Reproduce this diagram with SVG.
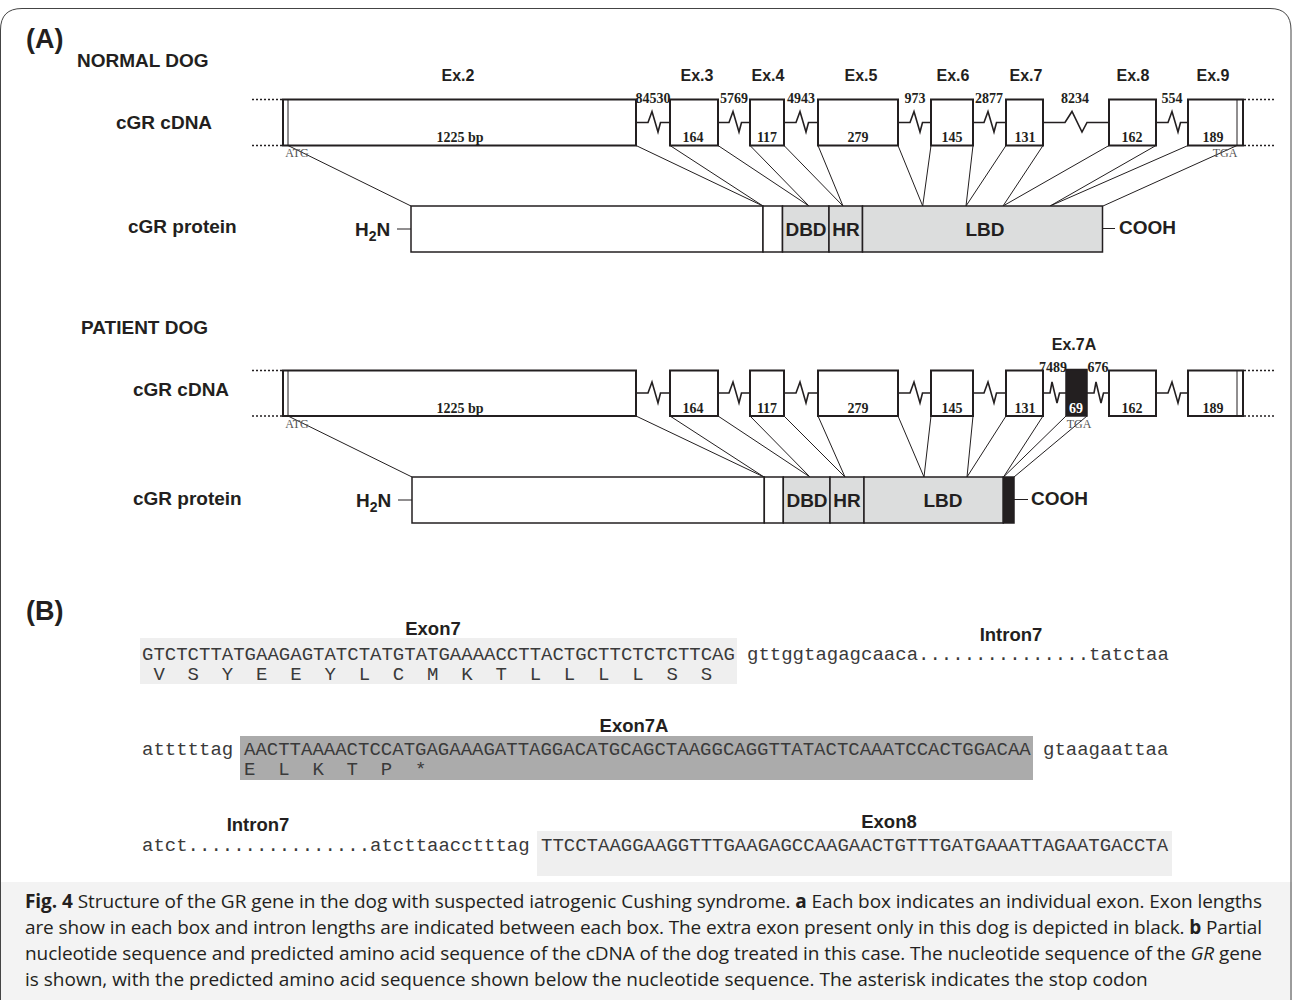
<svg xmlns="http://www.w3.org/2000/svg" width="1292" height="1000" viewBox="0 0 1292 1000">
<style>
.bx{fill:#fff;stroke:#231f20;stroke-width:2}
.ln{stroke:#231f20;stroke-width:1;fill:none}
.zz{stroke:#231f20;stroke-width:1.6;fill:none}
.dot{stroke:#231f20;stroke-width:1.5;stroke-dasharray:2 2}
.ex{font-family:"Liberation Sans",Arial,sans-serif;font-weight:bold;font-size:16px;fill:#231f20;text-anchor:middle}
.num{font-family:"Liberation Serif","Times New Roman",serif;font-weight:bold;font-size:14px;fill:#231f20;text-anchor:middle}
.sm{font-family:"Liberation Serif","Times New Roman",serif;font-size:12px;fill:#555;text-anchor:middle}
.lab{font-family:"Liberation Sans",Arial,sans-serif;font-weight:bold;font-size:19px;fill:#231f20}
.dom{font-family:"Liberation Sans",Arial,sans-serif;font-weight:bold;font-size:19px;fill:#231f20;text-anchor:middle}
.seq{font-family:"Liberation Mono","Courier New",monospace;font-size:19px;fill:#3a3a3a;white-space:pre}
.sl{font-family:"Liberation Sans",Arial,sans-serif;font-weight:bold;font-size:18.5px;fill:#231f20;text-anchor:middle}
.cap{font-family:"Open Sans",sans-serif;font-size:19px;fill:#231f20}
.gray{fill:#dcdddd;stroke:#231f20;stroke-width:1.5}
.wbox{fill:#fff;stroke:#231f20;stroke-width:1.5}
</style>
<rect x="0" y="0" width="1292" height="1000" fill="#fff"/>
<rect x="0" y="882" width="1292" height="118" fill="#f3f3f3"/>
<path d="M0.5,1000 V30 Q0.5,8.5 22,8.5 H1270 Q1291,8.5 1291,30 V1000" fill="none" stroke="#444" stroke-width="1"/>

<text x="26" y="48" style="font-family:'Liberation Sans',Arial,sans-serif;font-weight:bold;font-size:27px;fill:#231f20">(A)</text>
<text x="26" y="620" style="font-family:'Liberation Sans',Arial,sans-serif;font-weight:bold;font-size:27px;fill:#231f20">(B)</text>

<g id="normal-labels">
<text class="lab" x="77" y="67">NORMAL DOG</text>
<text class="lab" x="116" y="129">cGR cDNA</text>
<text class="lab" x="128" y="233">cGR protein</text>
</g>

<g id="connectors">
<g class="ln">
<line x1="288" y1="145.5" x2="411" y2="206"/>
<line x1="636" y1="145.5" x2="763" y2="206"/>
<line x1="670" y1="145.5" x2="763" y2="206"/>
<line x1="718" y1="145.5" x2="809" y2="206"/>
<line x1="750" y1="145.5" x2="809" y2="206"/>
<line x1="784" y1="145.5" x2="843" y2="206"/>
<line x1="818" y1="145.5" x2="843" y2="206"/>
<line x1="898" y1="145.5" x2="922.7" y2="206"/>
<line x1="931" y1="145.5" x2="922.7" y2="206"/>
<line x1="973" y1="145.5" x2="966" y2="206"/>
<line x1="1006" y1="145.5" x2="966" y2="206"/>
<line x1="1043" y1="145.5" x2="1003" y2="206"/>
<line x1="1109" y1="145.5" x2="1003" y2="206"/>
<line x1="1156" y1="145.5" x2="1050" y2="206"/>
<line x1="1188" y1="145.5" x2="1050" y2="206"/>
<line x1="1237" y1="145.5" x2="1103" y2="206"/>

<line x1="288" y1="416" x2="412" y2="477"/>
<line x1="636" y1="416" x2="764" y2="477"/>
<line x1="670" y1="416" x2="764" y2="477"/>
<line x1="718" y1="416" x2="810" y2="477"/>
<line x1="750" y1="416" x2="810" y2="477"/>
<line x1="784" y1="416" x2="845" y2="477"/>
<line x1="818" y1="416" x2="845" y2="477"/>
<line x1="898" y1="416" x2="924" y2="477"/>
<line x1="931" y1="416" x2="924" y2="477"/>
<line x1="973" y1="416" x2="967" y2="477"/>
<line x1="1006" y1="416" x2="967" y2="477"/>
<line x1="1043" y1="416" x2="1003.5" y2="477"/>
<line x1="1066" y1="416" x2="1003.5" y2="477"/>
<line x1="1087" y1="416" x2="1014" y2="477"/>
</g>
<g class="zz">
<path d="M636,122.5 H648 L652,111.5 L658,132 L660.5,122.5 H670"/>
<path d="M718,122.5 H729 L733,111.5 L739,132 L741.5,122.5 H750"/>
<path d="M784,122.5 H796 L800,111.5 L806,132 L808.5,122.5 H818"/>
<path d="M898,122.5 H910 L914,111.5 L920,132 L922.5,122.5 H931"/>
<path d="M973,122.5 H984 L988,111.5 L994,132 L996.5,122.5 H1006"/>
<path d="M1043,122.5 H1065 L1072,111.5 L1082,132 L1087,122.5 H1109"/>
<path d="M1156,122.5 H1168 L1172,111.5 L1178,132 L1180.5,122.5 H1188"/>

<path d="M636,393 H648 L652,382 L658,403 L660.5,393 H670"/>
<path d="M718,393 H729 L733,382 L739,403 L741.5,393 H750"/>
<path d="M784,393 H796 L800,382 L806,403 L808.5,393 H818"/>
<path d="M898,393 H910 L914,382 L920,403 L922.5,393 H931"/>
<path d="M973,393 H984 L988,382 L994,403 L996.5,393 H1006"/>
<path d="M1043,393 H1050 L1052,382 L1057,403 L1059.5,393 H1066"/>
<path d="M1087,393 H1094 L1096,382 L1101,403 L1103.5,393 H1109"/>
<path d="M1156,393 H1168 L1172,382 L1178,403 L1180.5,393 H1188"/>
</g>
<g class="dot">
<line x1="252" y1="99.5" x2="283" y2="99.5"/><line x1="252" y1="145.5" x2="283" y2="145.5"/>
<line x1="1244" y1="99.5" x2="1276" y2="99.5"/><line x1="1244" y1="145.5" x2="1276" y2="145.5"/>
<line x1="252" y1="370.5" x2="283" y2="370.5"/><line x1="252" y1="416" x2="283" y2="416"/>
<line x1="1244" y1="370.5" x2="1276" y2="370.5"/><line x1="1244" y1="416" x2="1276" y2="416"/>
</g>
</g>

<g id="intron-labels" class="num">
<text x="653" y="102.5">84530</text>
<text x="734" y="102.5">5769</text>
<text x="801" y="102.5">4943</text>
<text x="915" y="102.5">973</text>
<text x="989" y="102.5">2877</text>
<text x="1075" y="102.5">8234</text>
<text x="1172" y="102.5">554</text>
<text x="1053" y="371.5">7489</text>
<text x="1098" y="371.5">676</text>
</g>

<g id="n-ex2"><rect class="bx" x="283" y="99.5" width="353" height="46"/><line class="ln" x1="288" y1="99.5" x2="288" y2="145.5" stroke-width="2"/><text class="ex" x="458" y="80.5">Ex.2</text><text class="num" x="460" y="142">1225 bp</text><text class="sm" x="297" y="157">ATG</text></g>
<g id="n-ex3"><rect class="bx" x="670" y="99.5" width="48" height="46"/><text class="ex" x="697" y="80.5">Ex.3</text><text class="num" x="693" y="142">164</text></g>
<g id="n-ex4"><rect class="bx" x="750" y="99.5" width="34" height="46"/><text class="ex" x="768" y="80.5">Ex.4</text><text class="num" x="767" y="142">117</text></g>
<g id="n-ex5"><rect class="bx" x="818" y="99.5" width="80" height="46"/><text class="ex" x="861" y="80.5">Ex.5</text><text class="num" x="858" y="142">279</text></g>
<g id="n-ex6"><rect class="bx" x="931" y="99.5" width="42" height="46"/><text class="ex" x="953" y="80.5">Ex.6</text><text class="num" x="952" y="142">145</text></g>
<g id="n-ex7"><rect class="bx" x="1006" y="99.5" width="37" height="46"/><text class="ex" x="1026" y="80.5">Ex.7</text><text class="num" x="1025" y="142">131</text></g>
<g id="n-ex8"><rect class="bx" x="1109" y="99.5" width="47" height="46"/><text class="ex" x="1133" y="80.5">Ex.8</text><text class="num" x="1132" y="142">162</text></g>
<g id="n-ex9"><rect class="bx" x="1188" y="99.5" width="55" height="46"/><line class="ln" x1="1237" y1="99.5" x2="1237" y2="145.5" stroke-width="2"/><text class="ex" x="1213" y="80.5">Ex.9</text><text class="num" x="1213" y="142">189</text><text class="sm" x="1225" y="157">TGA</text></g>

<g id="n-protein">
<text class="lab" x="355" y="236">H<tspan font-size="14" dy="5">2</tspan><tspan dy="-5">N</tspan></text>
<line class="ln" x1="397" y1="229" x2="411" y2="229" stroke-width="2"/>
<rect class="wbox" x="411" y="206" width="352" height="46"/>
<rect class="wbox" x="763" y="206" width="19.5" height="46"/>
<rect class="gray" x="782.5" y="206" width="46.5" height="46"/>
<rect class="gray" x="829" y="206" width="33.5" height="46"/>
<rect class="gray" x="862.5" y="206" width="240" height="46"/>
<text class="dom" x="806" y="236">DBD</text>
<text class="dom" x="846" y="236">HR</text>
<text class="dom" x="985" y="236">LBD</text>
<line class="ln" x1="1102.5" y1="228.5" x2="1115" y2="228.5" stroke-width="2"/>
<text class="lab" x="1119" y="234">COOH</text>
</g>

<g id="patient-labels">
<text class="lab" x="81" y="334">PATIENT DOG</text>
<text class="lab" x="133" y="396">cGR cDNA</text>
<text class="lab" x="133" y="505">cGR protein</text>
</g>
<g id="p-ex2"><rect class="bx" x="283" y="370.5" width="353" height="45.5"/><line class="ln" x1="288" y1="370.5" x2="288" y2="416" stroke-width="2"/><text class="num" x="460" y="412.5">1225 bp</text><text class="sm" x="297" y="427.5">ATG</text></g>
<g id="p-ex3"><rect class="bx" x="670" y="370.5" width="48" height="45.5"/><text class="num" x="693" y="412.5">164</text></g>
<g id="p-ex4"><rect class="bx" x="750" y="370.5" width="34" height="45.5"/><text class="num" x="767" y="412.5">117</text></g>
<g id="p-ex5"><rect class="bx" x="818" y="370.5" width="80" height="45.5"/><text class="num" x="858" y="412.5">279</text></g>
<g id="p-ex6"><rect class="bx" x="931" y="370.5" width="42" height="45.5"/><text class="num" x="952" y="412.5">145</text></g>
<g id="p-ex7"><rect class="bx" x="1006" y="370.5" width="37" height="45.5"/><text class="num" x="1025" y="412.5">131</text></g>
<g id="p-ex7a"><rect x="1066" y="369.5" width="21" height="46.5" fill="#231f20" stroke="#231f20" stroke-width="1.5"/><text class="ex" x="1074" y="350">Ex.7A</text><text class="num" x="1076" y="412.5" style="fill:#fff">69</text><text class="sm" x="1079" y="427.5">TGA</text></g>
<g id="p-ex8"><rect class="bx" x="1109" y="370.5" width="47" height="45.5"/><text class="num" x="1132" y="412.5">162</text></g>
<g id="p-ex9"><rect class="bx" x="1188" y="370.5" width="55" height="45.5"/><line class="ln" x1="1237" y1="370.5" x2="1237" y2="416" stroke-width="2"/><text class="num" x="1213" y="412.5">189</text></g>

<g id="p-protein">
<text class="lab" x="356" y="507">H<tspan font-size="14" dy="5">2</tspan><tspan dy="-5">N</tspan></text>
<line class="ln" x1="398" y1="500" x2="412" y2="500" stroke-width="2"/>
<rect class="wbox" x="412" y="477" width="352.3" height="46"/>
<rect class="wbox" x="764.3" y="477" width="19" height="46"/>
<rect class="gray" x="783.3" y="477" width="46.7" height="46"/>
<rect class="gray" x="830" y="477" width="34" height="46"/>
<rect class="gray" x="864" y="477" width="139.3" height="46"/>
<rect x="1003.3" y="477" width="10.7" height="46" fill="#231f20" stroke="#231f20" stroke-width="1.5"/>
<text class="dom" x="807" y="507">DBD</text>
<text class="dom" x="847" y="507">HR</text>
<text class="dom" x="943" y="507">LBD</text>
<line class="ln" x1="1014" y1="499.5" x2="1028" y2="499.5" stroke-width="2"/>
<text class="lab" x="1031" y="505">COOH</text>
</g>

<g id="seq-row1">
<rect x="140" y="638" width="597" height="46" fill="#efefef"/>
<text class="sl" x="433" y="635">Exon7</text>
<text class="sl" x="1011" y="641">Intron7</text>
<text class="seq" x="142" y="660">GTCTCTTATGAAGAGTATCTATGTATGAAAACCTTACTGCTTCTCTCTTCAG</text>
<text class="seq" x="142" y="680" xml:space="preserve"> V  S  Y  E  E  Y  L  C  M  K  T  L  L  L  L  S  S</text>
<text class="seq" x="747" y="660">gttggtagagcaaca...............tatctaa</text>
</g>
<g id="seq-row2">
<rect x="240" y="736" width="793" height="44" fill="#ababab"/>
<text class="sl" x="634" y="732">Exon7A</text>
<text class="seq" x="142" y="755">atttttag</text>
<text class="seq" x="244" y="755">AACTTAAAACTCCATGAGAAAGATTAGGACATGCAGCTAAGGCAGGTTATACTCAAATCCACTGGACAA</text>
<text class="seq" x="244" y="775" xml:space="preserve">E  L  K  T  P  *</text>
<text class="seq" x="1043" y="755">gtaagaattaa</text>
</g>
<g id="seq-row3">
<rect x="537" y="831" width="635" height="45" fill="#efefef"/>
<text class="sl" x="258" y="831">Intron7</text>
<text class="sl" x="889" y="828">Exon8</text>
<text class="seq" x="142" y="851">atct................atcttaacctttag</text>
<text class="seq" x="541" y="851">TTCCTAAGGAAGGTTTGAAGAGCCAAGAACTGTTTGATGAAATTAGAATGACCTA</text>
</g>

<g id="caption">
<text class="cap" x="25" y="908" textLength="1237" lengthAdjust="spacing"><tspan font-weight="bold">Fig. 4</tspan> Structure of the GR gene in the dog with suspected iatrogenic Cushing syndrome. <tspan font-weight="bold">a</tspan> Each box indicates an individual exon. Exon lengths</text>
<text class="cap" x="25" y="934" textLength="1237" lengthAdjust="spacing">are show in each box and intron lengths are indicated between each box. The extra exon present only in this dog is depicted in black. <tspan font-weight="bold">b</tspan> Partial</text>
<text class="cap" x="25" y="960" textLength="1237" lengthAdjust="spacing">nucleotide sequence and predicted amino acid sequence of the cDNA of the dog treated in this case. The nucleotide sequence of the <tspan font-style="italic">GR</tspan> gene</text>
<text class="cap" x="25" y="986">is shown, with the predicted amino acid sequence shown below the nucleotide sequence. The asterisk indicates the stop codon</text>
</g>
</svg>
